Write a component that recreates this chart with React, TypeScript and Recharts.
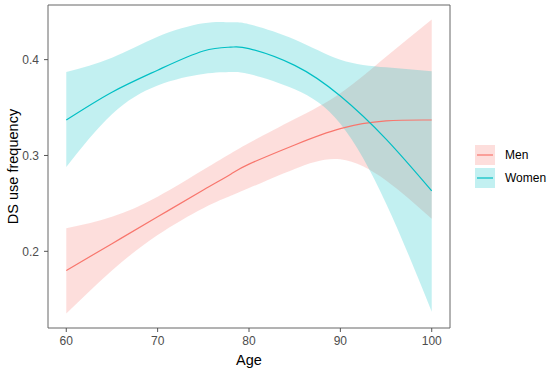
import React from "react";
import {
  ComposedChart,
  Area,
  Line,
  XAxis,
  YAxis,
  Legend,
  ReferenceArea,
} from "recharts";

// values (fit + 95% band)
const ages = [60, 65, 70, 75, 78, 80, 85, 90, 95, 100];
const menFit = [0.18, 0.208, 0.236, 0.264, 0.2805, 0.291, 0.311, 0.328, 0.336, 0.337];
const menLow = [0.135, 0.18, 0.217, 0.245, 0.258, 0.266, 0.286, 0.296, 0.274, 0.234];
const menHigh = [0.224, 0.236, 0.257, 0.285, 0.302, 0.313, 0.338, 0.365, 0.403, 0.442];
const womenFit = [0.337, 0.366, 0.389, 0.409, 0.413, 0.4115, 0.394, 0.362, 0.317, 0.263];
const womenLow = [0.288, 0.343, 0.373, 0.385, 0.387, 0.385, 0.369, 0.333, 0.25, 0.137];
const womenHigh = [0.387, 0.402, 0.424, 0.438, 0.439, 0.437, 0.421, 0.4, 0.392, 0.388];

const xTicks = [60, 70, 80, 90, 100];
const yTicks = [0.2, 0.3, 0.4];
const xDomain = [58, 102];
const yDomain = [0.12, 0.457];

const series = [
  { name: "Men", color: "#F8766D" },
  { name: "Women", color: "#00BFC4" },
];

const data = ages.map((age, i) => ({
  age,
  men: menFit[i],
  menBand: [menLow[i], menHigh[i]],
  women: womenFit[i],
  womenBand: [womenLow[i], womenHigh[i]],
}));

const FONT = '"Liberation Sans", Arial, Helvetica, sans-serif';
const BAND_OPACITY = 0.24;

const LegendBox = () => (
  <div style={{ fontFamily: FONT, fontSize: 12, color: "#000" }}>
    {series.map((s) => (
      <div
        key={s.name}
        style={{ display: "flex", alignItems: "center", height: 20, marginBottom: 3 }}
      >
        <svg width={20} height={20} style={{ marginRight: 10 }}>
          <rect x={0} y={0} width={20} height={20} fill={s.color} fillOpacity={BAND_OPACITY} />
          <line x1={2} y1={10} x2={18} y2={10} stroke={s.color} strokeWidth={1.2} />
        </svg>
        <span>{s.name}</span>
      </div>
    ))}
  </div>
);

const YLabel = (props: any) => {
  const vb = props.viewBox || { x: 0, y: 0, width: 48, height: 323 };
  const cx = vb.x + 13;
  const cy = vb.y + vb.height / 2;
  return (
    <text
      x={cx}
      y={cy}
      transform={`rotate(-90 ${cx} ${cy})`}
      textAnchor="middle"
      dominantBaseline="central"
      fontSize={14.5}
      fill="#000"
      fontFamily={FONT}
    >
      DS use frequency
    </text>
  );
};

export default function App() {
  return (
    <div style={{ position: "absolute", left: 0, top: 0, background: "#fff" }}>
      <ComposedChart
        width={550}
        height={371}
        data={data}
        margin={{ top: 5, right: 100, bottom: 0, left: 0 }}
        style={{ fontFamily: FONT }}
      >
        <XAxis
          dataKey="age"
          type="number"
          domain={xDomain}
          ticks={xTicks}
          axisLine={false}
          tickSize={4}
          tickMargin={4}
          tickLine={{ stroke: "#555" }}
          tick={{ fill: "#4d4d4d", fontSize: 12 }}
          height={43}
          label={{
            value: "Age",
            position: "insideBottom",
            offset: 6,
            fill: "#000",
            fontSize: 14.5,
          }}
        />
        <YAxis
          type="number"
          domain={yDomain}
          ticks={yTicks}
          axisLine={false}
          tickSize={4}
          tickMargin={5}
          tickLine={{ stroke: "#555" }}
          tick={{ fill: "#4d4d4d", fontSize: 12 }}
          tickFormatter={(v: number) => v.toFixed(1)}
          width={48}
          label={{ content: YLabel }}
        />
        <Area
          type="natural"
          dataKey="menBand"
          stroke="none"
          fill="#F8766D"
          fillOpacity={BAND_OPACITY}
          dot={false}
          activeDot={false}
          legendType="none"
          isAnimationActive={false}
        />
        <Line
          type="natural"
          dataKey="men"
          stroke="#F8766D"
          strokeWidth={1.2}
          dot={false}
          activeDot={false}
          isAnimationActive={false}
        />
        <Area
          type="natural"
          dataKey="womenBand"
          stroke="none"
          fill="#00BFC4"
          fillOpacity={BAND_OPACITY}
          dot={false}
          activeDot={false}
          legendType="none"
          isAnimationActive={false}
        />
        <Line
          type="natural"
          dataKey="women"
          stroke="#00BFC4"
          strokeWidth={1.2}
          dot={false}
          activeDot={false}
          isAnimationActive={false}
        />
        <ReferenceArea
          x1={xDomain[0]}
          x2={xDomain[1]}
          y1={yDomain[0]}
          y2={yDomain[1]}
          fill="none"
          stroke="#666"
          strokeWidth={1}
          ifOverflow="visible"
        />
        <Legend
          layout="horizontal"
          verticalAlign="middle"
          align="center"
          content={LegendBox}
          wrapperStyle={{ left: 475, top: 145, width: 75 }}
        />
      </ComposedChart>
    </div>
  );
}
